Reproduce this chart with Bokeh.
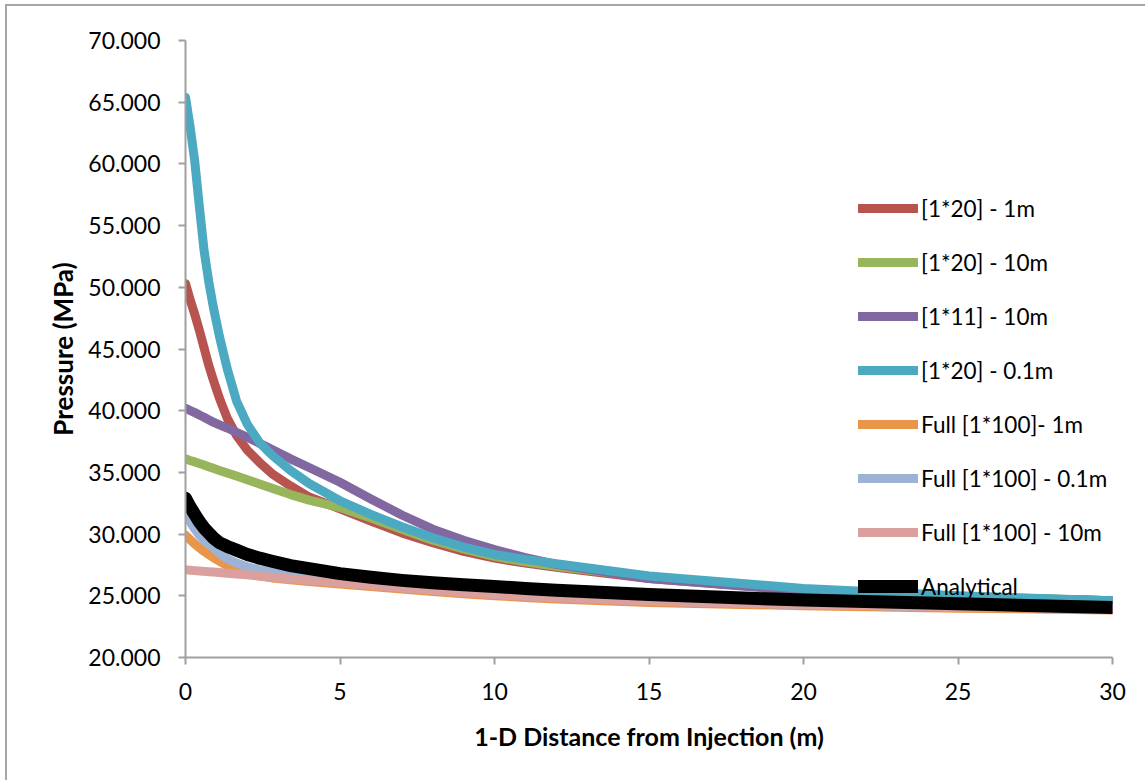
from bokeh.plotting import figure
from bokeh.models import Range1d, FixedTicker, NumeralTickFormatter, Legend, LegendItem
from bokeh.embed import file_html
from bokeh.resources import INLINE

# distance from injection (m)
x_m = [0, 0.15, 0.3, 0.45, 0.6, 0.75, 0.9, 1.1, 1.35, 1.65, 2, 2.4, 2.8, 3.4, 4,
       5, 6, 7, 8, 9, 10, 11, 12, 15, 20, 25, 30]

p_1x20_1m = [50.3, 49.0, 47.8, 46.5, 45.1, 43.7, 42.5, 41.0, 39.4, 38.0, 36.8, 35.8, 34.9, 33.9, 33.0,
             32.05, 31.05, 30.1, 29.3, 28.6, 28.05, 27.65, 27.3, 26.4, 25.45, 24.9, 24.6]
p_1x20_10m = [36.1, 35.97, 35.85, 35.72, 35.6, 35.46, 35.33, 35.16, 34.95, 34.7, 34.4, 34.06, 33.72, 33.2, 32.75,
              32.15, 31.3, 30.4, 29.5, 28.8, 28.2, 27.75, 27.4, 26.5, 25.5, 24.95, 24.6]
p_1x11_10m = [40.2, 40.02, 39.85, 39.65, 39.47, 39.27, 39.07, 38.85, 38.6, 38.25, 37.85, 37.35, 36.85, 36.1, 35.4,
              34.2, 32.85, 31.55, 30.4, 29.5, 28.75, 28.1, 27.55, 26.4, 25.4, 24.9, 24.6]
p_1x20_01m = [65.4, 63.0, 60.2, 56.5, 53.0, 50.5, 48.4, 46.0, 43.4, 40.8, 38.9, 37.4, 36.4, 35.15, 34.1,
              32.7, 31.6, 30.6, 29.7, 28.95, 28.35, 27.95, 27.6, 26.6, 25.6, 25.0, 24.6]
p_full_1m = [29.9, 29.55, 29.2, 28.9, 28.6, 28.35, 28.1, 27.8, 27.45, 27.1, 26.8, 26.6, 26.45, 26.3, 26.15,
             25.95, 25.75, 25.55, 25.35, 25.17, 25.0, 24.87, 24.75, 24.45, 24.2, 24.0, 23.85]
p_full_01m = [31.6, 31.0, 30.4, 29.9, 29.5, 29.2, 28.9, 28.45, 28.0, 27.65, 27.35, 27.1, 26.95, 26.7, 26.5,
              26.25, 25.95, 25.7, 25.5, 25.3, 25.15, 25.0, 24.9, 24.6, 24.3, 24.1, 23.95]
p_full_10m = [27.1, 27.07, 27.04, 27.01, 26.98, 26.95, 26.92, 26.88, 26.83, 26.77, 26.7, 26.6, 26.5, 26.37, 26.25,
              26.05, 25.85, 25.65, 25.45, 25.27, 25.1, 24.97, 24.85, 24.55, 24.3, 24.1, 23.95]
p_analytical = [32.9, 32.2, 31.6, 31.0, 30.5, 30.1, 29.7, 29.3, 29.0, 28.7, 28.35, 28.05, 27.8, 27.45, 27.2,
                26.8, 26.5, 26.25, 26.05, 25.9, 25.75, 25.6, 25.45, 25.1, 24.65, 24.35, 24.05]

series_labels = ["[1*20] - 1m", "[1*20] - 10m", "[1*11] - 10m", "[1*20] - 0.1m",
                 "Full [1*100]- 1m", "Full [1*100] - 0.1m", "Full [1*100] - 10m", "Analytical"]
series_values = [p_1x20_1m, p_1x20_10m, p_1x11_10m, p_1x20_01m,
                 p_full_1m, p_full_01m, p_full_10m, p_analytical]
series_colors = ["#B85450", "#98B55B", "#8168A0", "#4BA9C2",
                 "#E9954A", "#9DB3D6", "#D9A09E", "#000000"]
series_widths = [9, 9, 9, 9, 9, 9, 9, 13]

y_ticks = [20, 25, 30, 35, 40, 45, 50, 55, 60, 65, 70]
x_ticks = [0, 5, 10, 15, 20, 25, 30]

FONT = "Lato"

p = figure(width=1140, height=776, x_range=Range1d(0, 30), y_range=Range1d(20, 70),
           output_backend="svg", toolbar_location=None,
           min_border_left=178, min_border_right=35, min_border_top=34, min_border_bottom=125)
p.styles = {"margin-left": "5px", "margin-top": "4px",
            "border-left": "2px solid #A6A6A6", "border-top": "2px solid #A6A6A6"}
p.grid.grid_line_color = None
p.outline_line_color = None
p.background_fill_color = "white"
p.border_fill_color = "white"

items = []
for lab, vals, col, w in zip(series_labels, series_values, series_colors, series_widths):
    r = p.line(x_m, vals, line_color=col, line_width=w, line_cap="round", line_join="round")
    items.append(LegendItem(label=lab, renderers=[r]))

legend = Legend(items=items, location=(673, 56), padding=0, margin=0,
                border_line_color=None, background_fill_alpha=0,
                glyph_width=60, glyph_height=30, label_height=30, spacing=24,
                label_standoff=3, label_text_font=FONT, label_text_font_size="22.5px",
                label_text_color="black", level="underlay")
p.add_layout(legend)

for ax in (p.xaxis, p.yaxis):
    ax.axis_line_color = "#A0A0A0"
    ax.axis_line_width = 2
    ax.major_tick_line_color = "#A0A0A0"
    ax.major_tick_line_width = 2
    ax.major_tick_out = 7
    ax.major_tick_in = 0
    ax.minor_tick_line_color = None
    ax.major_label_text_font = FONT
    ax.major_label_text_font_size = "23px"
    ax.major_label_text_color = "black"
    ax.axis_label_text_font = FONT
    ax.axis_label_text_font_style = "bold"
    ax.axis_label_text_color = "black"

p.yaxis.ticker = FixedTicker(ticks=y_ticks)
p.yaxis.formatter = NumeralTickFormatter(format="0.000")
p.yaxis.major_label_standoff = 18
p.yaxis.axis_label = "Pressure (MPa)"
p.yaxis.axis_label_text_font_size = "26px"
p.yaxis.axis_label_standoff = 6

p.xaxis.ticker = FixedTicker(ticks=x_ticks)
p.xaxis.major_label_standoff = 18
p.xaxis.axis_label = "1-D Distance from Injection (m)"
p.xaxis.axis_label_text_font_size = "25px"
p.xaxis.axis_label_standoff = 18

open("out.html", "w").write(file_html(p, INLINE))
